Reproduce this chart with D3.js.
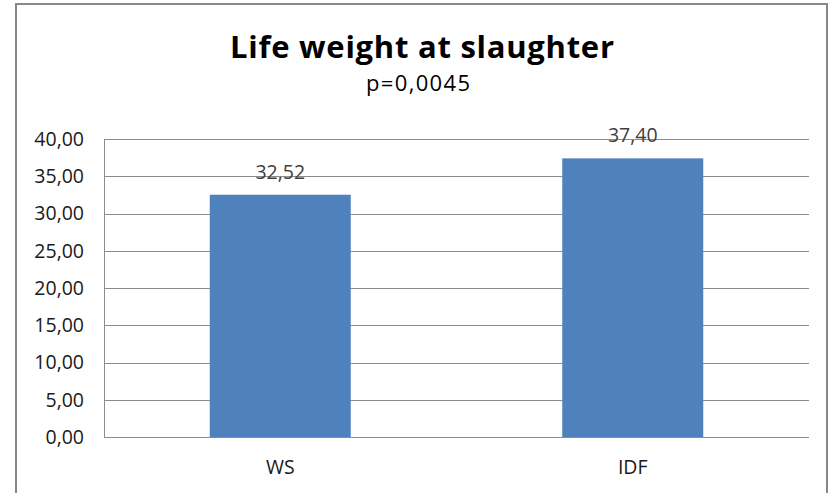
<!DOCTYPE html>
<html>
<head>
<meta charset="utf-8">
<script src="https://cdn.jsdelivr.net/npm/d3@7"></script>
<style>
  body { margin: 0; background: #fff; }
  svg { display: block; font-family: "Open Sans", sans-serif; }
</style>
</head>
<body>
<div id="chart"></div>
<script>
var width = 834;
var height = 493;
var margin = {top: 139, bottom: 56, left: 104, right: 25};

// data
var categories = ["WS", "IDF"];
var values = [32.52, 37.40];
var yTicks = [0, 5, 10, 15, 20, 25, 30, 35, 40];
var title = "Life weight at slaughter";
var subtitle = "p=0,0045";

var fmt = function(v) { return d3.format(".2f")(v).replace(".", ","); };

var svg = d3.select("#chart")
  .append("svg")
  .attr("width", width)
  .attr("height", height);

// chart frame
svg.append("rect")
  .attr("x", 16)
  .attr("y", 4)
  .attr("width", 811)
  .attr("height", 500)
  .style("fill", "#fff")
  .style("stroke", "#888")
  .style("stroke-width", 2);

var x = d3.scaleBand()
  .domain(categories)
  .range([margin.left, width - margin.right]);

var y = d3.scaleLinear()
  .domain([0, 40])
  .range([height - margin.bottom, margin.top]);

// gridlines
svg.append("g")
  .selectAll("line")
  .data(yTicks)
  .enter()
  .append("line")
  .attr("x1", margin.left)
  .attr("x2", width - margin.right)
  .attr("y1", function(d) { return Math.round(y(d)) + 0.5; })
  .attr("y2", function(d) { return Math.round(y(d)) + 0.5; })
  .style("stroke", "#8c8c8c")
  .style("stroke-width", 1);

// y axis line
svg.append("line")
  .attr("x1", margin.left + 0.5)
  .attr("x2", margin.left + 0.5)
  .attr("y1", y(40))
  .attr("y2", y(0))
  .style("stroke", "#8c8c8c");

// y labels
svg.append("g")
  .selectAll("text")
  .data(yTicks)
  .enter()
  .append("text")
  .attr("x", margin.left - 20)
  .attr("y", function(d) { return y(d); })
  .attr("dy", "0.35em")
  .attr("text-anchor", "end")
  .style("font-size", "19.5px")
  .style("fill", "#1a1a1a")
  .text(fmt);

// bars
var barW = x.bandwidth() * 0.4;
svg.append("g")
  .selectAll("rect")
  .data(values)
  .enter()
  .append("rect")
  .attr("x", function(d, i) { return x(categories[i]) + (x.bandwidth() - barW) / 2; })
  .attr("y", function(d) { return y(d); })
  .attr("width", barW)
  .attr("height", function(d) { return y(0) - y(d); })
  .style("fill", "#4f81bd");

// value labels
svg.append("g")
  .selectAll("text")
  .data(values)
  .enter()
  .append("text")
  .attr("x", function(d, i) { return x(categories[i]) + x.bandwidth() / 2; })
  .attr("y", function(d) { return y(d) - 16; })
  .attr("text-anchor", "middle")
  .style("font-size", "19.5px")
  .style("fill", "#404040")
  .text(fmt);

// category labels
svg.append("g")
  .selectAll("text")
  .data(categories)
  .enter()
  .append("text")
  .attr("x", function(d) { return x(d) + x.bandwidth() / 2; })
  .attr("y", y(0) + 37)
  .attr("text-anchor", "middle")
  .style("font-size", "19.5px")
  .style("fill", "#1a1a1a")
  .text(function(d) { return d; });

// titles
svg.append("text")
  .attr("x", 422)
  .attr("y", 58)
  .attr("text-anchor", "middle")
  .attr("textLength", 384)
  .style("font-size", "31px")
  .style("font-weight", "bold")
  .text(title);

svg.append("text")
  .attr("x", 418)
  .attr("y", 91)
  .attr("text-anchor", "middle")
  .attr("textLength", 104)
  .style("font-size", "22px")
  .text(subtitle);
</script>
</body>
</html>
